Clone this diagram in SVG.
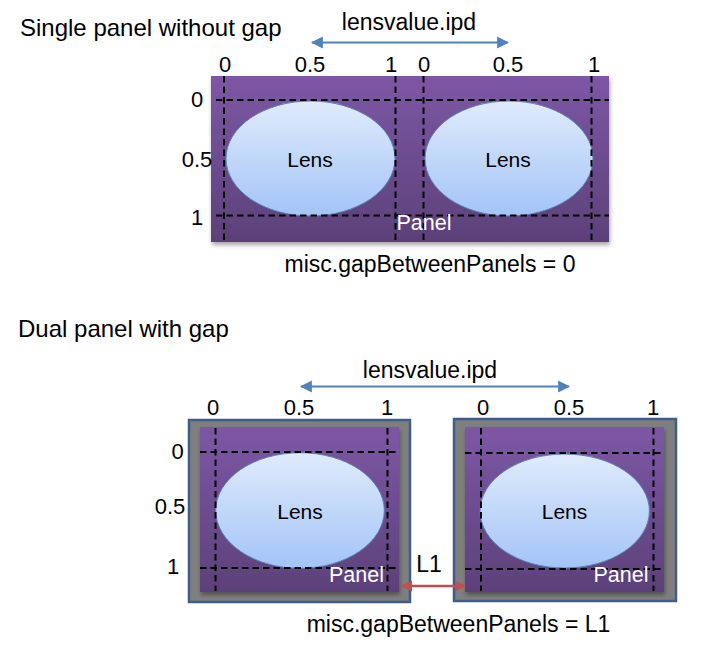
<svg xmlns="http://www.w3.org/2000/svg" width="701" height="645" viewBox="0 0 701 645">
<style>
text{font-family:"Liberation Sans",Arial,sans-serif;fill:#000}
.t{font-size:24px}
.m{font-size:23px;text-anchor:middle}
.ax{font-size:22px;text-anchor:middle}
.lens{font-size:21px;text-anchor:middle}
.pl{font-size:21.5px;fill:#fff}
.dash{stroke:#000;stroke-width:2;stroke-dasharray:6.5 4;fill:none}
.panel{fill:url(#pg);filter:url(#sh)}
.lensE{fill:url(#lg);stroke:#5b80b8;stroke-width:1}
.frame{fill:#7f7f7f;stroke:#3e5d8c;stroke-width:2.5}
.blue{stroke:#4f81bd;stroke-width:2.2;fill:none}
.red{stroke:#c0504d;stroke-width:2.5;fill:none}
</style>
<defs>
<linearGradient id="pg" x1="0" y1="0" x2="0" y2="1">
<stop offset="0" stop-color="#7d57a5"/>
<stop offset="1" stop-color="#5c4179"/>
</linearGradient>
<linearGradient id="lg" x1="0" y1="0" x2="0" y2="1">
<stop offset="0" stop-color="#e0ebfc"/>
<stop offset="1" stop-color="#a3c4f8"/>
</linearGradient>
<filter id="sh" x="-10%" y="-10%" width="120%" height="125%">
<feDropShadow dx="1" dy="3" stdDeviation="2" flood-color="#000" flood-opacity="0.35"/>
</filter>
<marker id="ab" viewBox="0 0 10 10" refX="9" refY="5" markerWidth="5.5" markerHeight="5.5" orient="auto-start-reverse">
<path d="M0,0 L10,5 L0,10 Z" fill="#4f81bd"/>
</marker>
<marker id="ar" viewBox="0 0 10 10" refX="9" refY="5" markerWidth="4.5" markerHeight="4.5" orient="auto-start-reverse">
<path d="M0,0 L10,5 L0,10 Z" fill="#c0504d"/>
</marker>
</defs>

<text class="t" x="20" y="35.5">Single panel without gap</text>
<text class="t" x="18" y="336.5">Dual panel with gap</text>

<g id="panel-single">
<rect class="panel" x="211" y="76" width="398" height="166"/>
<ellipse class="lensE" cx="310.5" cy="158.5" rx="84.5" ry="57.5"/>
<ellipse class="lensE" cx="509" cy="158.5" rx="84" ry="57.5"/>
<text class="lens" x="310" y="166.5">Lens</text>
<text class="lens" x="508" y="166.5">Lens</text>
<line class="dash" x1="224" y1="76" x2="224" y2="241"/>
<line class="dash" x1="395.5" y1="76" x2="395.5" y2="241"/>
<line class="dash" x1="423.5" y1="76" x2="423.5" y2="241"/>
<line class="dash" x1="591.5" y1="76" x2="591.5" y2="241"/>
<line class="dash" x1="216" y1="100" x2="609" y2="100"/>
<line class="dash" x1="216" y1="215.5" x2="609" y2="215.5"/>
<text class="pl" x="396.5" y="230">Panel</text>
<text class="ax" x="225" y="71.5">0</text>
<text class="ax" x="310" y="71.5">0.5</text>
<text class="ax" x="391" y="71.5">1</text>
<text class="ax" x="424" y="71.5">0</text>
<text class="ax" x="508" y="71.5">0.5</text>
<text class="ax" x="594" y="71.5">1</text>
<text class="ax" x="197" y="107">0</text>
<text class="ax" x="197" y="167">0.5</text>
<text class="ax" x="197" y="225">1</text>
</g>
<text class="m" x="430" y="271.5">misc.gapBetweenPanels = 0</text>

<g id="panel-left">
<rect class="frame" x="189" y="420" width="221" height="182"/>
<rect class="panel" x="200" y="427" width="199" height="165"/>
<ellipse class="lensE" cx="300" cy="510.5" rx="84.3" ry="57.8"/>
<text class="lens" x="300" y="518.5">Lens</text>
<line class="dash" x1="215.5" y1="428" x2="215.5" y2="591"/>
<line class="dash" x1="387.5" y1="428" x2="387.5" y2="591"/>
<line class="dash" x1="200" y1="452" x2="399" y2="452"/>
<line class="dash" x1="200" y1="568" x2="399" y2="568"/>
<text class="pl" x="329" y="581.5">Panel</text>
<text class="ax" x="213" y="415">0</text>
<text class="ax" x="299" y="415">0.5</text>
<text class="ax" x="387" y="415">1</text>
<text class="ax" x="177.5" y="458.5">0</text>
<text class="ax" x="170" y="513.5">0.5</text>
<text class="ax" x="173" y="573.5">1</text>
</g>

<g id="panel-right">
<rect class="frame" x="454" y="419" width="222" height="182"/>
<rect class="panel" x="465" y="427" width="199" height="165"/>
<ellipse class="lensE" cx="564.7" cy="511" rx="84.7" ry="57"/>
<text class="lens" x="564.5" y="518.5">Lens</text>
<line class="dash" x1="481" y1="428" x2="481" y2="591"/>
<line class="dash" x1="653.5" y1="428" x2="653.5" y2="591"/>
<line class="dash" x1="465" y1="453" x2="664" y2="453"/>
<line class="dash" x1="465" y1="569" x2="664" y2="569"/>
<text class="pl" x="593.5" y="581.5">Panel</text>
<text class="ax" x="483" y="415">0</text>
<text class="ax" x="569" y="415">0.5</text>
<text class="ax" x="653" y="415">1</text>
</g>

<g id="connectors">
<line class="blue" x1="312" y1="42.5" x2="508" y2="42.5" marker-start="url(#ab)" marker-end="url(#ab)"/>
<line class="blue" x1="301" y1="386.5" x2="569" y2="386.5" marker-start="url(#ab)" marker-end="url(#ab)"/>
<line class="red" x1="402" y1="586" x2="465" y2="586" marker-start="url(#ar)" marker-end="url(#ar)"/>
</g>
<text class="m" x="409" y="30">lensvalue.ipd</text>
<text class="m" x="430" y="377.5">lensvalue.ipd</text>
<text class="m" x="429" y="571.5">L1</text>
<text class="m" x="458.5" y="631.5">misc.gapBetweenPanels = L1</text>
</svg>
